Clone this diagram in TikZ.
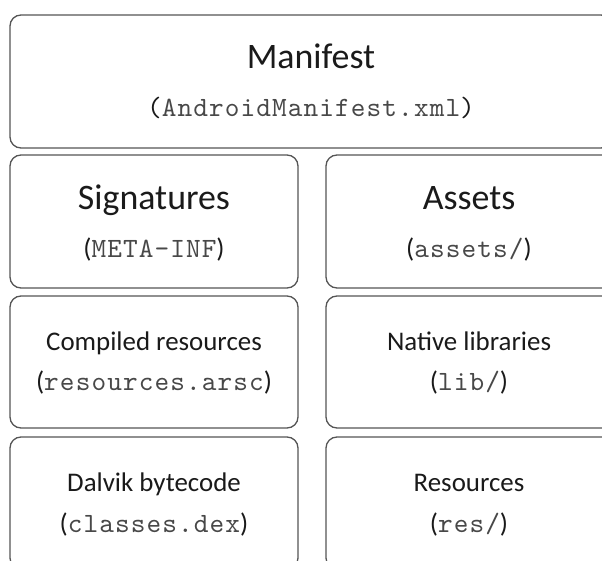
\documentclass[tikz,border=0pt]{standalone}
\usepackage{fontspec}
\setmainfont{Carlito}
\newfontfamily\lmono{lmmono10-regular.otf}[LetterSpace=4]
\definecolor{edge}{HTML}{555555}
\definecolor{txt}{HTML}{1A1A1A}
\definecolor{codetxt}{HTML}{484848}
\tikzset{
  box/.style={draw=edge, line width=1.3bp, rounded corners=11bp, inner sep=0pt, outer sep=0pt},
  big/.style={anchor=base, text=txt, inner sep=0pt, font=\fontsize{36}{40}\selectfont},
  mid/.style={anchor=base, text=txt, inner sep=0pt, font=\fontsize{27}{30}\selectfont},
  code/.style={anchor=base, text=txt, inner sep=0pt, font=\fontsize{27}{30}\selectfont},
}
\newcommand{\cf}[1]{({\fontsize{28}{30}\selectfont\lmono\color{codetxt}#1})}
\begin{document}
\begin{tikzpicture}[x=1bp,y=-1bp]
\useasboundingbox (0,0) rectangle (602,561);
\clip (0,0) rectangle (602,561);
% top
\node[box, minimum width=602bp, minimum height=133bp] (man) at (311,81.5) {};
\node[big] (manT) at (311,69) {Manifest};
\node[code] (manF) at (311,117) {\fontsize{28}{30}\selectfont\lmono(\textcolor{codetxt}{AndroidManifest.xml})};
% row 1
\node[box, minimum width=288bp, minimum height=133bp] (sig) at (154,221.5) {};
\node[big] (sigT) at (154,210) {Signatures};
\node[code] (sigF) at (154,257) {\cf{META-INF}};
\node[box, minimum width=288bp, minimum height=133bp] (ast) at (470,221.5) {};
\node[big] (astT) at (469,210) {Assets};
\node[code] (astF) at (469,257) {\cf{assets/}};
% row 2
\node[box, minimum width=288bp, minimum height=132bp] (cmp) at (154,362) {};
\node[mid] (cmpT) at (154,350) {Compiled resources};
\node[code] (cmpF) at (154,390) {\cf{resources.arsc}};
\node[box, minimum width=288bp, minimum height=132bp] (nat) at (470,362) {};
\node[mid] (natT) at (469,350) {Native libraries};
\node[code] (natF) at (469,390) {\cf{lib/}};
% row 3
\node[box, minimum width=288bp, minimum height=132bp] (dal) at (154,503) {};
\node[mid] (dalT) at (154,491) {Dalvik bytecode};
\node[code] (dalF) at (154,532) {\cf{classes.dex}};
\node[box, minimum width=288bp, minimum height=132bp] (res) at (470,503) {};
\node[mid] (resT) at (469,491) {Resources};
\node[code] (resF) at (469,532) {\cf{res/}};
\end{tikzpicture}
\end{document}
